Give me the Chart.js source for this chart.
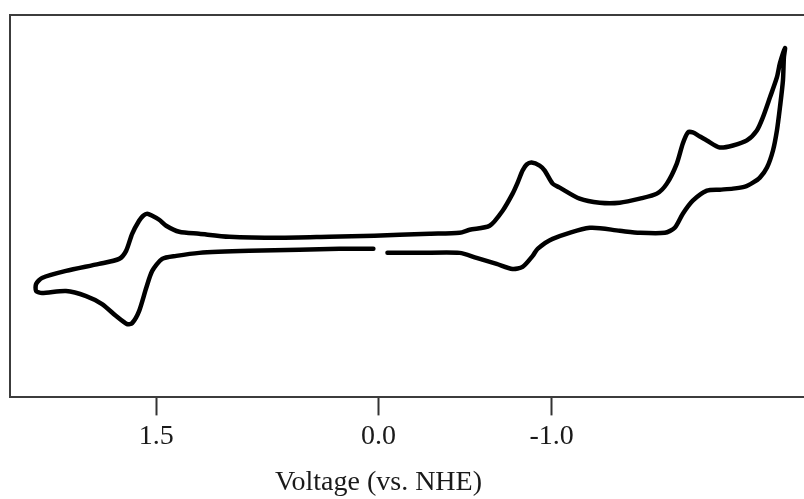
<!DOCTYPE html>
<html>
<head>
<meta charset="utf-8">
<script src="https://cdn.jsdelivr.net/npm/chart.js@4.4.0/dist/chart.umd.min.js"></script>
<style>
html,body{margin:0;padding:0;background:#fff;}
#wrap{width:804px;height:499px;position:relative;}
</style>
</head>
<body>
<div id="wrap"><canvas id="c"></canvas></div>
<script>
// Cyclic voltammogram (x: potential on the plotted axis, y: current, arbitrary units)
const voltage = [
  0.038,-0.165,-0.418,-0.525,-0.652,-0.753,-0.816,-0.880,-0.911,-1.006,-1.241,-1.430,-1.557,-1.715,-1.778,-1.829,-1.892,-1.981,-2.063,-2.146,-2.222,-2.272,-2.316,-2.361,-2.399,-2.424,-2.443,-2.462,-2.468,-2.475,
  -2.443,-2.424,-2.380,-2.335,-2.297,-2.234,-2.146,-2.063,-1.981,-1.937,-1.892,-1.861,-1.829,-1.791,-1.728,-1.665,-1.557,-1.430,-1.304,-1.177,-1.051,-1.006,-0.956,-0.924,-0.873,-0.842,-0.816,-0.785,-0.753,-0.690,-0.608,-0.481,-0.418,-0.228,-0.038,0.120,0.405,0.722,1.038,1.228,1.354,1.437,1.481,1.525,1.557,1.582,1.608,1.652,1.690,1.734,1.861,2.070,2.222,2.259,
  2.259,2.222,2.070,1.943,1.842,1.753,1.684,1.652,1.608,1.563,1.525,1.462,1.373,1.228,0.911,0.595,0.342,0.127
];
const current = [
  -0.7,-0.7,-0.7,-1.2,-1.8,-2.3,-2.1,-1.0,-0.3,0.7,1.8,1.5,1.3,1.3,1.8,3.2,4.5,5.5,5.6,5.7,5.9,6.3,6.8,7.8,9.5,11.5,13.8,16.5,18.8,19.7,
  18.2,16.8,14.8,12.8,11.5,10.5,10.0,9.8,10.5,10.9,11.3,11.3,10.2,8.2,6.2,5.2,4.7,4.3,4.3,4.7,5.8,6.2,7.5,8.0,8.3,8.1,7.5,6.3,5.2,3.5,2.0,1.6,1.3,1.2,1.1,1.0,0.9,0.8,0.9,1.2,1.4,2.0,2.6,3.0,3.2,3.0,2.5,1.2,-0.5,-1.3,-1.8,-2.5,-3.2,-3.8,
  -4.5,-4.7,-4.5,-5.0,-5.8,-7.0,-7.8,-7.7,-6.5,-4.2,-2.5,-1.3,-1.0,-0.7,-0.5,-0.4,-0.3,-0.3
];
// Tick positions on the plotted axis and their printed labels
const tickPositions = [1.5, 0.095, -1.0];
const tickLabels = ['1.5', '0.0', '-1.0'];
const xTitle = 'Voltage (vs. NHE)';

const points = voltage.map((v, i) => ({x: v, y: current[i]}));
const serif = '"Liberation Serif", "DejaVu Serif", serif';

const frame = {
  id: 'frame',
  afterDraw(chart) {
    const {ctx, chartArea: a} = chart;
    ctx.save();
    ctx.strokeStyle = '#3c3c3c';
    ctx.lineWidth = 2;
    ctx.beginPath();
    ctx.moveTo(a.right + 2, a.top);
    ctx.lineTo(a.left, a.top);
    ctx.lineTo(a.left, a.bottom);
    ctx.stroke();
    // axis title, centred under the "0.0" tick as in the reference
    const xs = chart.scales.x;
    const cx = xs.getPixelForValue(tickPositions[1]);
    ctx.fillStyle = '#1a1a1a';
    ctx.font = '28px ' + serif;
    ctx.textAlign = 'center';
    ctx.textBaseline = 'middle';
    ctx.fillText(xTitle, cx, a.bottom + 85);
    ctx.restore();
  }
};

new Chart(document.getElementById('c'), {
  type: 'line',
  data: {
    datasets: [{
      data: points,
      borderColor: '#000',
      borderWidth: 4.5,
      pointRadius: 0,
      tension: 0.25,
      borderJoinStyle: 'round',
      borderCapStyle: 'round',
      fill: false
    }]
  },
  options: {
    responsive: true,
    maintainAspectRatio: false,
    animation: false,
    layout: {padding: {left: 10, right: 0, top: 15, bottom: 42}},
    plugins: {legend: {display: false}, tooltip: {enabled: false}},
    scales: {
      x: {
        type: 'linear',
        reverse: true,
        min: -2.595,
        max: 2.424,
        afterBuildTicks(axis) { axis.ticks = tickPositions.map(v => ({value: v})); },
        ticks: {
          autoSkip: false,
          maxRotation: 0,
          padding: 4,
          color: '#1a1a1a',
          font: {family: serif, size: 28},
          callback: (v, i) => tickLabels[i]
        },
        grid: {display: true, drawOnChartArea: false, drawTicks: true, tickLength: 18, tickWidth: 2, tickColor: '#333'},
        border: {display: true, color: '#3c3c3c', width: 2},
        title: {display: false}
      },
      y: {
        type: 'linear',
        min: -15.1,
        max: 23.0,
        ticks: {display: false},
        grid: {display: false, drawTicks: false},
        border: {display: false}
      }
    }
  },
  plugins: [frame]
});
</script>
</body>
</html>
